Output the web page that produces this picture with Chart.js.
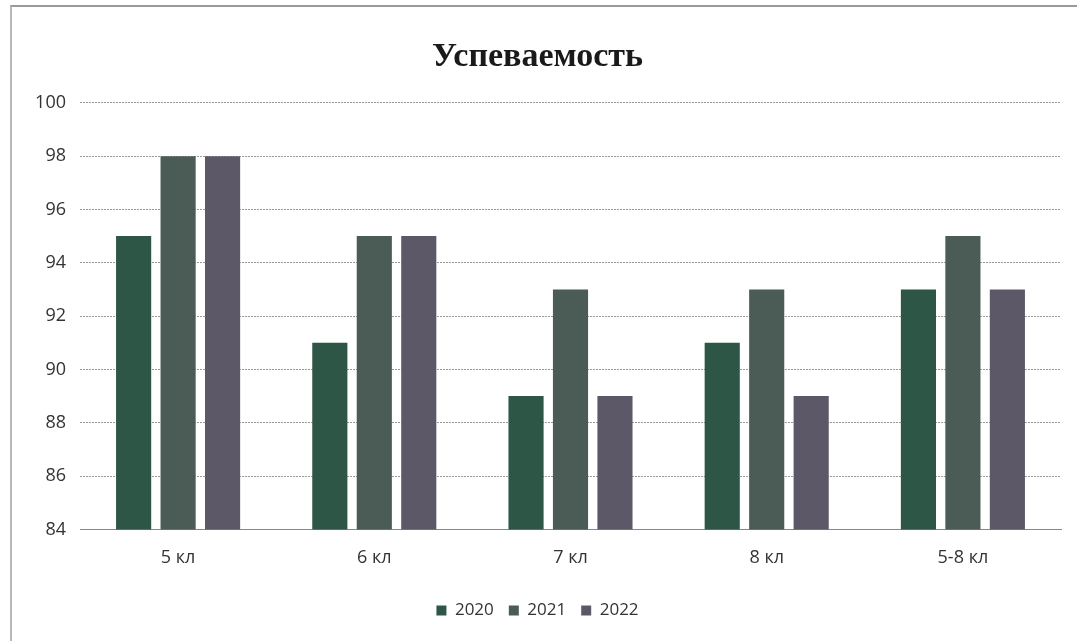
<!DOCTYPE html>
<html>
<head>
<meta charset="utf-8">
<script src="https://cdn.jsdelivr.net/npm/chart.js@4/dist/chart.umd.min.js"></script>
<style>
  html, body { margin: 0; padding: 0; background: #fff; }
  #wrap { position: relative; width: 1077px; height: 641px; }
  #frame { position: absolute; left: 10px; top: 5px; width: 1080px; height: 660px;
           border-left: 2px solid #b8b8b8; border-top: 2px solid #9a9a9a; }
</style>
</head>
<body>
<div id="wrap">
  <div id="frame"></div>
  <canvas id="chart-area" width="1077" height="641"></canvas>
</div>
<script>
// данные диаграммы
var classes = ["5 кл", "6 кл", "7 кл", "8 кл", "5-8 кл"];
var years = ["2020", "2021", "2022"];
var values2020 = [95, 91, 89, 91, 93];
var values2021 = [98, 95, 93, 93, 95];
var values2022 = [98, 95, 89, 89, 93];
var yTicks = [84, 86, 88, 90, 92, 94, 96, 98, 100];

var colors = ["#2d5646", "#4b5b55", "#5d5868"];

var config = {
	type : 'bar',
	data : {
		labels : classes,
		datasets : [
			{ label : years[0], data : values2020, backgroundColor : colors[0] },
			{ label : years[1], data : values2021, backgroundColor : colors[1] },
			{ label : years[2], data : values2022, backgroundColor : colors[2] }
		]
	},
	options : {
		responsive : false,
		animation : false,
		layout : { padding : { left : 14, right : 16, top : 0, bottom : 12 } },
		datasets : { bar : { categoryPercentage : 0.68, barPercentage : 0.79 } },
		plugins : {
			title : {
				display : true,
				text : 'Успеваемость',
				color : '#1a1a1a',
				font : { family : 'Liberation Serif', size : 34, weight : 'bold' },
				padding : { top : 37, bottom : 25 }
			},
			legend : {
				position : 'bottom',
				labels : {
					boxWidth : 10, boxHeight : 10, color : '#333',
					font : { family : 'Open Sans', size : 17 }, padding : 15
				}
			},
			tooltip : { enabled : false }
		},
		scales : {
			x : {
				grid : { display : false, drawTicks : false },
				border : { color : '#888', width : 1 },
				ticks : { color : '#333', padding : 18, font : { family : 'Open Sans', size : 18 } }
			},
			y : {
				min : 84, max : 100,
				afterBuildTicks : function(axis) {
					axis.ticks = yTicks.map(function(v) { return { value : v }; });
				},
				afterFit : function(axis) { axis.width = 66; },
				grid : { color : '#9a9a9a', tickLength : 10, tickColor : 'rgba(0,0,0,0)' },
				border : { display : false, dash : [2, 1] },
				ticks : { color : '#333', padding : 4, font : { family : 'Open Sans', size : 18 } }
			}
		}
	}
};

window.onload = function() {
	var ctx = document.getElementById('chart-area').getContext('2d');
	window.myBar = new Chart(ctx, config);
};
</script>
</body>
</html>
